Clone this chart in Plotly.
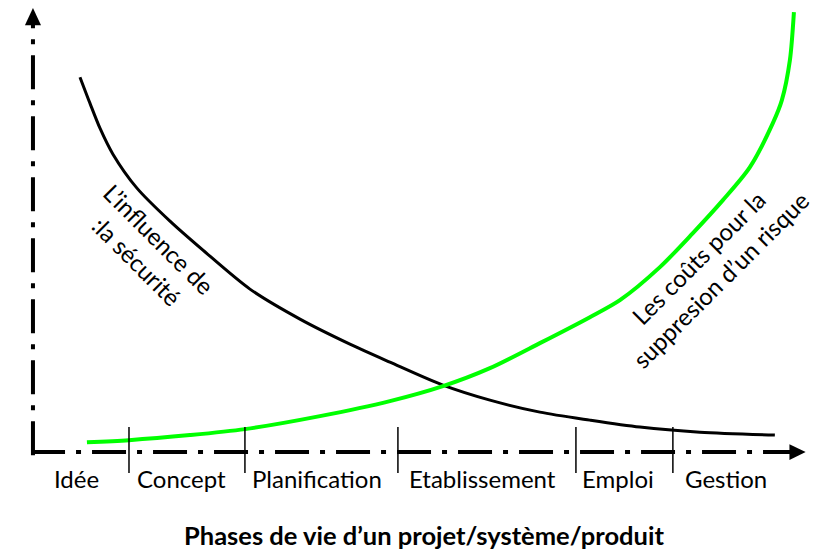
import plotly.graph_objects as go

# Phase labels, their left edges and the phase separators (x in % of axis length)
phase_labels = ["Idée", "Concept", "Planification", "Etablissement", "Emploi", "Gestion"]
label_x = [2.46, 13.21, 28.11, 48.45, 70.85, 84.2]
separators = [12.44, 27.46, 47.28, 70.34, 82.90]

# Influence of safety (black curve)
infl_x = [6.09, 7.38, 8.68, 10.36, 13.47, 17.75, 22.02, 28.11, 34.59, 41.06, 46.24, 53.11, 59.20, 65.67,
          72.15, 78.63, 86.40, 96.11]
infl_y = [84.84, 78.96, 73.30, 67.42, 59.73, 52.26, 45.70, 36.88, 30.09, 24.43, 20.36, 15.16, 11.76, 9.05,
          7.24, 5.66, 4.52, 3.85]

# Cost of removing a risk (green curve)
cost_x = [6.99, 12.44, 20.34, 27.46, 37.18, 46.24, 53.11, 59.20, 65.67, 72.15, 76.04, 81.22, 85.49, 89.38,
          92.88, 95.85, 97.02, 98.06, 98.58]
cost_y = [2.26, 2.71, 3.85, 5.20, 8.14, 11.54, 14.93, 19.00, 24.66, 30.54, 34.39, 41.86, 49.55, 57.01,
          64.48, 74.43, 79.64, 88.69, 99.55]

FONT = "Lato, Carlito, Calibri, sans-serif"
DASH = "34px,11px,5px,11px"

fig = go.Figure()

# axes (dash-dot lines)
fig.add_trace(go.Scatter(x=[0, 0], y=[-0.7, 97], mode="lines",
                         line=dict(color="black", width=4, dash=DASH), hoverinfo="skip"))
fig.add_trace(go.Scatter(x=[-0.25, 98.2], y=[0, 0], mode="lines",
                         line=dict(color="black", width=4, dash=DASH), hoverinfo="skip"))

# curves
fig.add_trace(go.Scatter(x=infl_x, y=infl_y, mode="lines",
                         line=dict(color="black", width=3, shape="spline", smoothing=0.8),
                         hoverinfo="skip"))
fig.add_trace(go.Scatter(x=cost_x, y=cost_y, mode="lines",
                         line=dict(color="#00ff00", width=4, shape="spline", smoothing=0.8),
                         hoverinfo="skip"))

shapes = []
for s in separators:
    shapes.append(dict(type="line", xref="x", yref="y", x0=s, x1=s, y0=5.66, y1=-4.75,
                       line=dict(color="black", width=1.5)))
# arrow heads
shapes.append(dict(type="path", xref="x", yref="y",
                   path="M -1.04,96.6 L 1.04,96.6 L 0,100.5 Z", fillcolor="black", line=dict(width=0)))
shapes.append(dict(type="path", xref="x", yref="y",
                   path="M 98.0,-1.8 L 98.0,1.8 L 100.1,0 Z", fillcolor="black", line=dict(width=0)))

annotations = []
for lab, lx in zip(phase_labels, label_x):
    annotations.append(dict(x=lx, y=-5.88, xref="x", yref="y", text=lab, showarrow=False,
                            xanchor="left", yanchor="middle",
                            font=dict(family=FONT, size=24, color="black")))

annotations.append(dict(x=50.65, y=-18.8, xref="x", yref="y",
                        text="<b>Phases de vie d’un projet/système/produit</b>", showarrow=False,
                        xanchor="center", yanchor="middle", borderpad=0,
                        font=dict(family=FONT, size=25.5, color="black")))

annotations.append(dict(x=14.9, y=45.7, xref="x", yref="y", text="L’influence de<br>:la sécurité",
                        showarrow=False, textangle=45, align="center",
                        font=dict(family=FONT, size=24, color="black")))
annotations.append(dict(x=87.7, y=41.6, xref="x", yref="y", text="Les coûts pour la<br>suppresion d’un risque",
                        showarrow=False, textangle=-45, align="center",
                        font=dict(family=FONT, size=24, color="black")))

fig.update_layout(
    width=818, height=552,
    margin=dict(l=0, r=0, t=0, b=0),
    paper_bgcolor="white", plot_bgcolor="white",
    showlegend=False,
    xaxis=dict(range=[-4.27, 101.7], visible=False, fixedrange=True),
    yaxis=dict(range=[-22.6, 102.3], visible=False, fixedrange=True),
    shapes=shapes, annotations=annotations,
)

fig.write_html("out.html", config={"displayModeBar": False},
               post_script="document.body.style.margin='0';document.body.style.overflow='hidden';")
